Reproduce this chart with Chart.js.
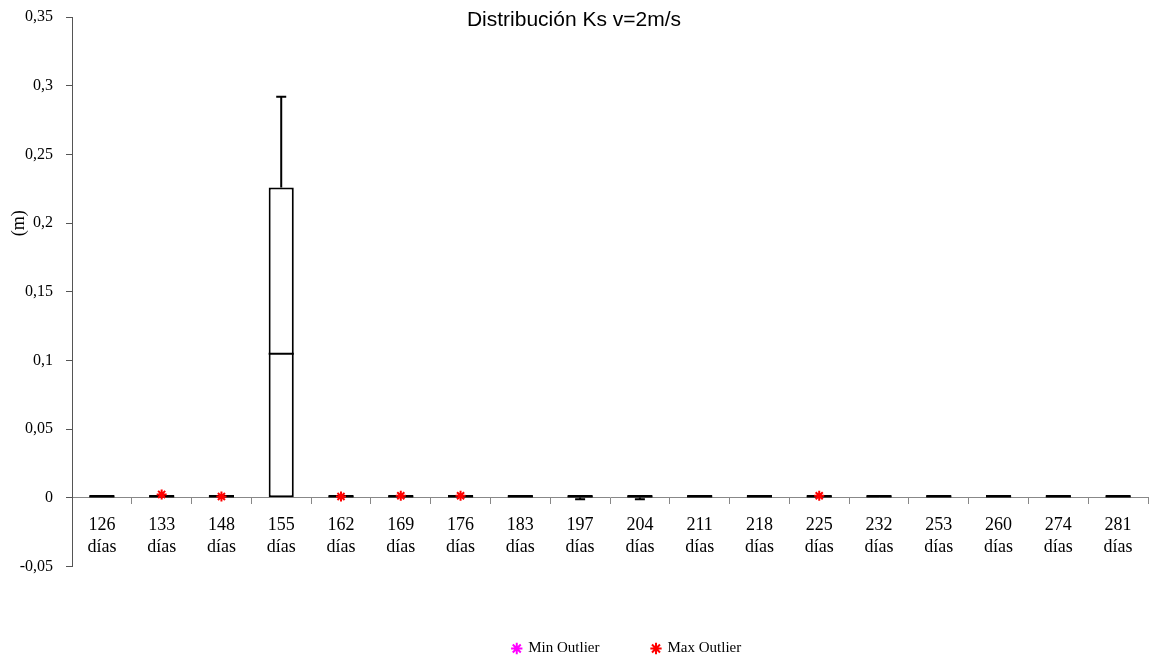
<!DOCTYPE html>
<html><head><meta charset="utf-8">
<script src="https://cdn.jsdelivr.net/npm/chart.js@4/dist/chart.umd.min.js"></script>
<style>html,body{margin:0;padding:0;background:#fff;overflow:hidden;width:1149px;height:658px;} #wrap{width:1149px;height:666px;position:relative;}</style>
</head><body><div id="wrap"><canvas id="c"></canvas></div>
<script>
const categories = ['126','133','148','155','162','169','176','183','197','204','211','218','225','232','253','260','274','281'];
const dayWord = 'días';
const q1Values     = [0,0,0,0,0,0,0,0,0,0,0,0,0,0,0,0,0,0];
const q3Values     = [0.002,0.002,0.002,0.226,0.002,0.002,0.002,0.002,0.002,0.002,0.002,0.002,0.002,0.002,0.002,0.002,0.002,0.002];
const medianValues = [0.001,0.001,0.001,0.105,0.001,0.001,0.001,0.001,0.001,0.001,0.001,0.001,0.001,0.001,0.001,0.001,0.001,0.001];
const minValues    = [0,0,0,0,0,0,0,0,-0.001,-0.001,0,0,0,0,0,0,0,0];
const maxValues    = [0.002,0.002,0.002,0.292,0.002,0.002,0.002,0.002,0.002,0.002,0.002,0.002,0.002,0.002,0.002,0.002,0.002,0.002];
const minOutliers  = [null,null,null,null,null,null,null,null,null,null,null,null,null,null,null,null,null,null];
const maxOutliers  = [null,0.0025,0.001,null,0.001,0.0015,0.0015,null,null,null,null,null,0.0015,null,null,null,null,null];
const yTickValues  = [-0.05,0,0.05,0.1,0.15,0.2,0.25,0.3,0.35];
const yTickLabels  = ['-0,05','0','0,05','0,1','0,15','0,2','0,25','0,3','0,35'];

const whiskerPlugin = {
  id: 'whiskers',
  afterLayout(chart) {
    const lg = chart.legend;
    if (lg) { lg.left += 17; lg.right += 17; }
  },
  afterDatasetDraw(chart, args) {
    if (args.index !== 0) return;
    const ctx = chart.ctx, y = chart.scales.y;
    const meta = chart.getDatasetMeta(0);
    ctx.save();
    ctx.strokeStyle = '#000';
    ctx.lineWidth = 2;
    meta.data.forEach((el, i) => {
      const x = el.x, half = el.width / 2, cap = 5;
      const yq1 = y.getPixelForValue(q1Values[i]);
      const yq3 = y.getPixelForValue(q3Values[i]);
      const ymed = y.getPixelForValue(medianValues[i]);
      const ymin = y.getPixelForValue(minValues[i]);
      const ymax = y.getPixelForValue(maxValues[i]);
      ctx.beginPath();
      ctx.moveTo(x - half, ymed); ctx.lineTo(x + half, ymed);
      if (ymax < yq3 - 1) {
        ctx.moveTo(x, yq3); ctx.lineTo(x, ymax);
        ctx.moveTo(x - cap, ymax); ctx.lineTo(x + cap, ymax);
      }
      if (ymin > yq1 + 0.5) {
        ctx.moveTo(x, yq1); ctx.lineTo(x, ymin);
        ctx.moveTo(x - cap, ymin); ctx.lineTo(x + cap, ymin);
      }
      ctx.stroke();
    });
    ctx.restore();
  },
  afterDraw(chart) {
    const ctx = chart.ctx, y = chart.scales.y;
    ctx.save();
    ctx.translate(19, y.getPixelForValue(0.2));
    ctx.rotate(-Math.PI / 2);
    ctx.font = '18px "Liberation Serif"';
    ctx.fillStyle = '#000';
    ctx.textAlign = 'center';
    ctx.textBaseline = 'middle';
    ctx.fillText('(m)', 0, 0);
    ctx.restore();
  }
};

new Chart(document.getElementById('c'), {
  type: 'bar',
  data: {
    labels: categories.map(c => [c, dayWord]),
    datasets: [
      {
        type: 'bar', label: 'Box',
        data: q1Values.map((v, i) => [v, q3Values[i]]),
        backgroundColor: '#fff', borderColor: '#000', borderWidth: 2, borderSkipped: false,
        barPercentage: 0.42, categoryPercentage: 1, order: 2
      },
      {
        type: 'line', label: 'Min Outlier', data: minOutliers, showLine: false,
        pointStyle: 'star', pointRadius: 5, borderColor: '#FF00FF', backgroundColor: '#FF00FF',
        borderWidth: 1, pointBorderWidth: 2, order: 1
      },
      {
        type: 'line', label: 'Max Outlier', data: maxOutliers, showLine: false,
        pointStyle: 'star', pointRadius: 5, borderColor: '#FF0000', backgroundColor: '#FF0000',
        borderWidth: 1, pointBorderWidth: 2, order: 1
      }
    ]
  },
  options: {
    responsive: true, maintainAspectRatio: false, animation: false,
    layout: { autoPadding: false, padding: { left: 0, right: 1, top: 0, bottom: 0 } },
    plugins: {
      tooltip: { enabled: false },
      title: {
        display: true, text: 'Distribución Ks v=2m/s', color: '#000',
        font: { family: '"Liberation Sans", Arial, sans-serif', size: 21, weight: 'normal' },
        padding: { top: 8, bottom: -16 }
      },
      legend: {
        position: 'bottom', fullSize: false,
        title: { display: true, text: '', padding: { top: 0, bottom: 0 }, font: { size: 16, lineHeight: 1.375 } },
        labels: {
          filter: item => item.datasetIndex !== 0,
          usePointStyle: true, boxWidth: 8, boxHeight: 8, padding: 52.5,
          color: '#000', font: { family: '"Liberation Serif", serif', size: 15 }
        }
      }
    },
    scales: {
      x: {
        position: { y: 0 },
        offset: true,
        grid: { display: true, drawOnChartArea: false, drawTicks: true, tickLength: 6, color: '#888', offset: true },
        border: { display: true, color: '#888', width: 1 },
        ticks: { color: '#000', padding: 10, maxRotation: 0, autoSkip: false,
                 font: { family: '"Liberation Serif", serif', size: 18, lineHeight: 1.25 } },
        afterFit: s => { s.paddingLeft = 0; s.paddingRight = 0; }
      },
      y: {
        min: -0.05, max: 0.35,
        afterBuildTicks: s => { s.ticks = yTickValues.map(v => ({ value: v })); },
        afterFit: s => { s.width = 72; s.paddingTop = 0; s.paddingBottom = 0; },
        grid: { display: true, drawOnChartArea: false, drawTicks: true, tickLength: 6, color: '#555' },
        border: { display: true, color: '#555', width: 1 },
        ticks: {
          color: '#000', padding: 13,
          font: { family: '"Liberation Serif", serif', size: 16 },
          callback: v => { const k = yTickValues.findIndex(t => Math.abs(t - v) < 1e-9); return k >= 0 ? yTickLabels[k] : ''; }
        }
      }
    }
  },
  plugins: [whiskerPlugin]
});
</script></body></html>
